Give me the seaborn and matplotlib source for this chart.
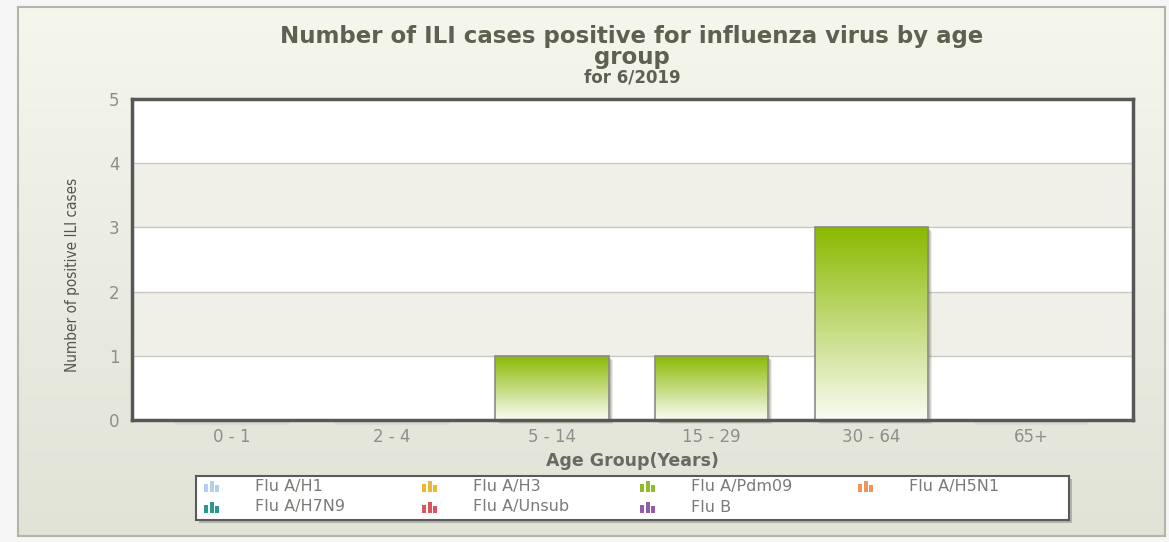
import numpy as np
import pandas as pd
import matplotlib
matplotlib.use("Agg")
import matplotlib.pyplot as plt
import seaborn as sns
from matplotlib.patches import Rectangle
from matplotlib.transforms import ScaledTranslation

# ---------------- data ----------------
age_groups = ["0 - 1", "2 - 4", "5 - 14", "15 - 29", "30 - 64", "65+"]
pdm09_cases = [0, 0, 1, 1, 3, 0]
y_ticks = [0, 1, 2, 3, 4, 5]
legend_labels = ["Flu A/H1", "Flu A/H3", "Flu A/Pdm09", "Flu A/H5N1",
                 "Flu A/H7N9", "Flu A/Unsub", "Flu B"]
legend_colors = ["#a9cbee", "#e8b21c", "#84b414", "#f2874a",
                 "#138c8a", "#d8434a", "#8a4a9c"]
title_text = "Number of ILI cases positive for influenza virus by age\ngroup"
subtitle_text = "for 6/2019"
xlabel_text = "Age Group(Years)"
ylabel_text = "Number of positive ILI cases"

df = pd.DataFrame({"age": age_groups, "cases": pdm09_cases})

W, H = 1169, 542
fig = plt.figure(figsize=(W / 100, H / 100), dpi=100)
fig.patch.set_facecolor("#f6f6f6")

def fx(px):
    return px / W

def fy(py):
    return 1 - py / H

# ---------- container background with gradient ----------
cont = fig.add_axes([fx(18), fy(536), fx(1165 - 18), (536 - 7) / H], zorder=0)
grad = np.linspace(0, 1, 256).reshape(-1, 1)
c_top = np.array([0xf5, 0xf6, 0xec]) / 255
c_bot = np.array([0xe2, 0xe3, 0xd7]) / 255
img = c_top[None, None, :] * (1 - grad[..., None]) + c_bot[None, None, :] * grad[..., None]
cont.imshow(img, aspect="auto", extent=[0, 1, 0, 1], origin="upper")
cont.set_xlim(0, 1)
cont.set_ylim(0, 1)
cont.set_xticks([])
cont.set_yticks([])
for s in cont.spines.values():
    s.set_color("#b4b5aa")
    s.set_linewidth(1.5)

# ---------- main axes ----------
ax = fig.add_axes([fx(132), fy(420), fx(1133 - 132), (420 - 99) / H], zorder=2)
ax.set_facecolor("white")

sns.barplot(data=df, x="age", y="cases", ax=ax, width=0.71,
            color="#8cba05", edgecolor="#8a8a86", linewidth=1.2, zorder=3)
bar_patches = list(ax.patches)

XL = (-0.625, 5.635)
ax.set_xlim(*XL)
ax.set_ylim(0, 5)
ax.set_yticks(y_ticks)

# alternating bands and grid lines
for lo in (1, 3):
    ax.axhspan(lo, lo + 1, color="#f0f0e9", zorder=0, lw=0)
for yv in y_ticks[1:-1]:
    ax.axhline(yv, color="#c9c9c2", lw=1, zorder=1)

# gradient fill of the bars with shadow
bar_grad = np.linspace(0, 1, 256).reshape(-1, 1)
g_top = np.array([0x8a, 0xb9, 0x00]) / 255
g_bot = np.array([0xfa, 0xfc, 0xf4]) / 255
bar_img = g_top[None, None, :] * (1 - bar_grad[..., None]) + g_bot[None, None, :] * bar_grad[..., None]
for p in bar_patches:
    h = p.get_height()
    x0 = p.get_x()
    w = p.get_width()
    if h <= 0:
        ax.plot([x0, x0 + w], [0, 0], color="#d6d7cf", lw=3, alpha=0.7,
                transform=ax.transData + ScaledTranslation(0, -3 / 100, fig.dpi_scale_trans),
                clip_on=False, zorder=1, solid_capstyle="butt")
        continue
    for k, a in ((4, 0.10), (3, 0.14), (2, 0.18)):
        sh = Rectangle((x0, 0), w, h, facecolor="#444444", edgecolor="none", alpha=a,
                       transform=ax.transData + ScaledTranslation(k / 100, -k / 100, fig.dpi_scale_trans),
                       zorder=2, clip_on=False)
        ax.add_patch(sh)
    im = ax.imshow(bar_img, aspect="auto", extent=[x0, x0 + w, 0, h], origin="upper",
                   zorder=3.5)
    im.set_clip_path(p)
    p.set_facecolor("none")
    p.set_zorder(4)

ax.set_xlim(*XL)
ax.set_ylim(0, 5)

for s in ax.spines.values():
    s.set_color("#575757")
    s.set_linewidth(2.5)
    s.set_zorder(5)

ax.tick_params(axis="both", length=0, colors="#8e8e8a", labelsize=12)
ax.tick_params(axis="y", pad=9)
ax.tick_params(axis="x", pad=6)
ax.set_xlabel(xlabel_text, fontsize=12.5, fontweight="bold", color="#686864", labelpad=4)
ax.set_ylabel(ylabel_text, fontsize=11, color="#55554f", fontstretch="condensed",
              family="DejaVu Sans")
ax.yaxis.set_label_coords(-0.052, 0.452)

# ---------- titles ----------
fig.text(fx(632), fy(47), title_text, ha="center", va="center", fontsize=16.5,
         fontweight="bold", color="#5d6150", linespacing=0.88)
fig.text(fx(632), fy(77), subtitle_text, ha="center", va="center", fontsize=12,
         fontweight="bold", color="#5d6150")

# ---------- legend ----------
lx0, ly0, lx1, ly1 = 196, 476, 1069, 520
shadow = fig.add_axes([fx(lx0 + 3), fy(ly1 + 3), fx(lx1 - lx0), (ly1 - ly0) / H], zorder=3)
shadow.set_facecolor("#b3b3ab")
shadow.set_xticks([]); shadow.set_yticks([])
for s in shadow.spines.values():
    s.set_visible(False)
lax = fig.add_axes([fx(lx0), fy(ly1), fx(lx1 - lx0), (ly1 - ly0) / H], zorder=4)
lax.set_xlim(lx0, lx1)
lax.set_ylim(ly1, ly0)
lax.set_facecolor("white")
lax.set_xticks([]); lax.set_yticks([])
for s in lax.spines.values():
    s.set_color("#5a5a5a")
    s.set_linewidth(1.5)
col_x = [204, 422, 640, 858]
row_y = [486, 507]
for i, (lab, col) in enumerate(zip(legend_labels, legend_colors)):
    cx = col_x[i % 4]
    cy = row_y[i // 4]
    for bx, bh in ((0, 8), (5.5, 11), (11, 7)):
        lax.add_patch(Rectangle((cx + bx, cy + 6 - bh), 4.4, bh, facecolor=col,
                                edgecolor="none", alpha=0.9))
    lax.text(cx + 51, cy, lab, ha="left", va="center", fontsize=11.5,
             color="#7a7a76")

fig.savefig("out.png", dpi=100, facecolor=fig.get_facecolor())
